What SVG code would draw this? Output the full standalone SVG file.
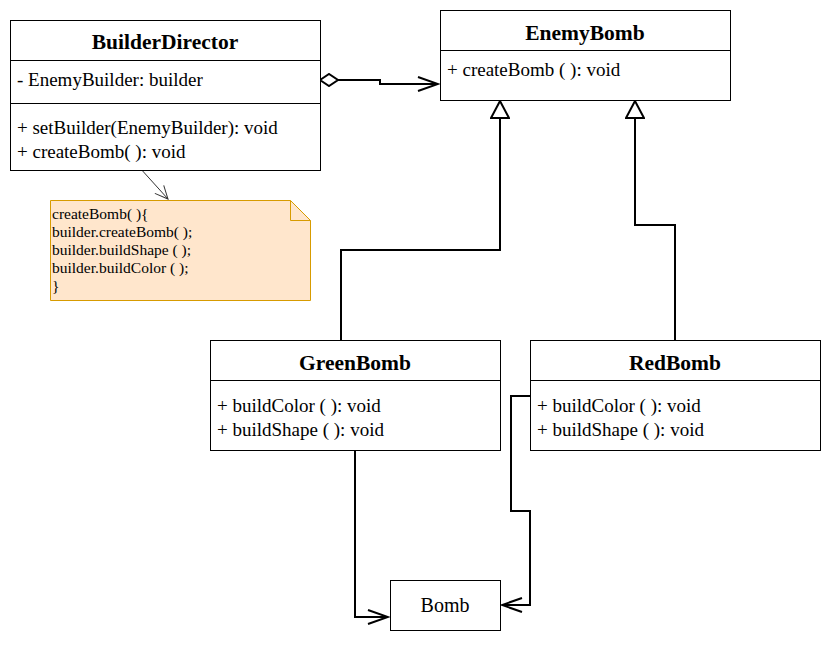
<svg xmlns="http://www.w3.org/2000/svg" width="831" height="646" viewBox="0 0 831 646">
<style>
.box{fill:#fff;stroke:#000;stroke-width:1}
text{font-family:'Liberation Serif','DejaVu Serif',serif;fill:#000}
.t{font-size:21.5px;font-weight:bold;text-anchor:middle}
.m{font-size:19px}
.n{font-size:15.5px}
.c{fill:none;stroke:#000;stroke-width:2}
</style>
<defs>
<marker id="open" markerWidth="24" markerHeight="16" refX="22" refY="8" orient="auto" markerUnits="userSpaceOnUse">
<path d="M2,1 L22,8 L2,15" fill="none" stroke="#000" stroke-width="2"/>
</marker>
<marker id="tri" markerWidth="22" markerHeight="20" refX="20" refY="10" orient="auto" markerUnits="userSpaceOnUse">
<path d="M3,1 L20,10 L3,19 Z" fill="#fff" stroke="#000" stroke-width="2"/>
</marker>
<marker id="dia" markerWidth="22" markerHeight="14" refX="1" refY="7" orient="auto" markerUnits="userSpaceOnUse">
<path d="M1,7 L10,1 L19,7 L10,13 Z" fill="#fff" stroke="#000" stroke-width="2"/>
</marker>
<marker id="thin" markerWidth="16" markerHeight="14" refX="14" refY="7" orient="auto" markerUnits="userSpaceOnUse">
<path d="M1,1 L14,7 L1,13" fill="none" stroke="#333" stroke-width="1"/>
</marker>
</defs>

<g id="connectors">
<path class="c" d="M320,80 L380,80 L380,84 L438,84" marker-start="url(#dia)" marker-end="url(#open)"/>
<path class="c" d="M341,340 L341,250 L500,250 L500,101" marker-end="url(#tri)"/>
<path class="c" d="M675,340 L675,225 L635,225 L635,101" marker-end="url(#tri)"/>
<path class="c" d="M355,450 L355,617 L388,617" marker-end="url(#open)"/>
<path class="c" d="M530,396 L511,396 L511,511 L530,511 L530,605 L502,605" marker-end="url(#open)"/>
<path d="M130,157 L168,199" fill="none" stroke="#333" stroke-width="1" marker-end="url(#thin)"/>
</g>

<g id="BuilderDirector">
<rect class="box" x="10.5" y="20.5" width="310" height="150"/>
<line x1="10.5" y1="60.5" x2="320.5" y2="60.5" stroke="#000"/>
<line x1="10.5" y1="103.5" x2="320.5" y2="103.5" stroke="#000"/>
<text class="t" x="165" y="49">BuilderDirector</text>
<text class="m" x="17" y="86">- EnemyBuilder: builder</text>
<text class="m" x="17" y="134">+ setBuilder(EnemyBuilder): void</text>
<text class="m" x="17" y="158">+ createBomb( ): void</text>
</g>

<g id="note">
<path d="M50.5,200.5 L290.5,200.5 L310.5,220.5 L310.5,300.5 L50.5,300.5 Z" fill="#ffe6cc" stroke="#d79b00"/>
<path d="M290.5,200.5 L290.5,220.5 L310.5,220.5" fill="none" stroke="#d79b00"/>
<text class="n" x="52" y="219">createBomb( ){</text>
<text class="n" x="52" y="237">builder.createBomb( );</text>
<text class="n" x="52" y="255">builder.buildShape ( );</text>
<text class="n" x="52" y="273">builder.buildColor ( );</text>
<text class="n" x="52" y="291">}</text>
</g>

<g id="EnemyBomb">
<rect class="box" x="440.5" y="10.5" width="290" height="90"/>
<line x1="440.5" y1="50.5" x2="730.5" y2="50.5" stroke="#000"/>
<text class="t" x="585" y="40">EnemyBomb</text>
<text class="m" x="447" y="76">+ createBomb ( ): void</text>
</g>

<g id="GreenBomb">
<rect class="box" x="210.5" y="340.5" width="290" height="110"/>
<line x1="210.5" y1="380.5" x2="500.5" y2="380.5" stroke="#000"/>
<text class="t" x="355" y="370">GreenBomb</text>
<text class="m" x="217" y="412">+ buildColor ( ): void</text>
<text class="m" x="217" y="436">+ buildShape ( ): void</text>
</g>

<g id="RedBomb">
<rect class="box" x="530.5" y="340.5" width="290" height="110"/>
<line x1="530.5" y1="380.5" x2="820.5" y2="380.5" stroke="#000"/>
<text class="t" x="675" y="370">RedBomb</text>
<text class="m" x="537" y="412">+ buildColor ( ): void</text>
<text class="m" x="537" y="436">+ buildShape ( ): void</text>
</g>

<g id="Bomb">
<rect class="box" x="390.5" y="580.5" width="110" height="50"/>
<text class="m" x="445" y="612" text-anchor="middle" style="font-size:20px">Bomb</text>
</g>
</svg>
